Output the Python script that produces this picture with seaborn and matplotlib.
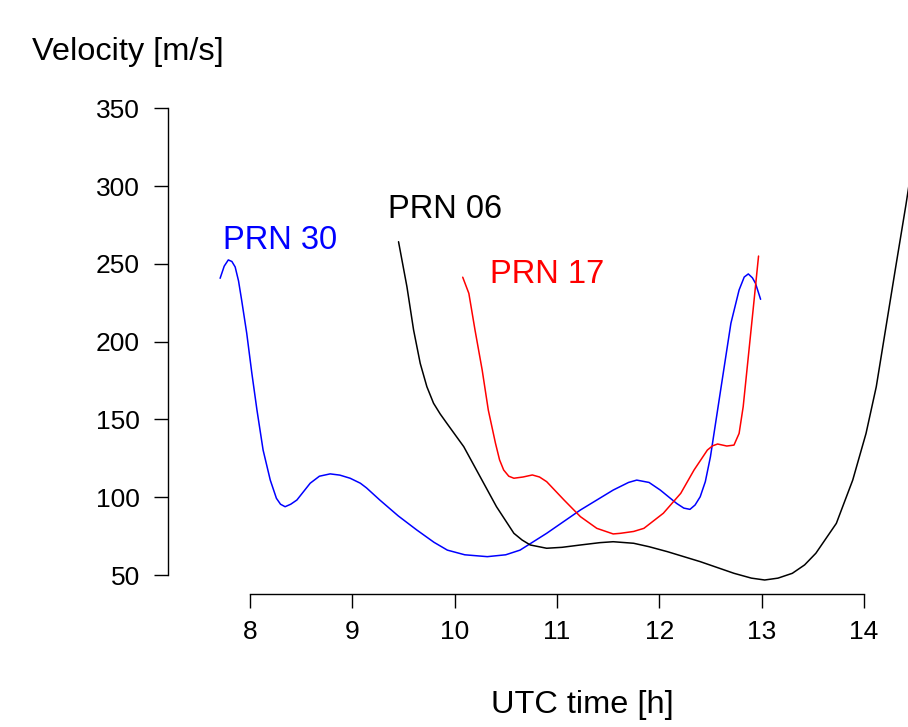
import numpy as np
import pandas as pd
import matplotlib
matplotlib.use("Agg")
import matplotlib.pyplot as plt
import seaborn as sns

# ---- data ----
prn30_t = [7.71, 7.75, 7.79, 7.825, 7.857, 7.89, 7.92, 7.97, 8.02, 8.07, 8.13, 8.20, 8.26, 8.30,
           8.345, 8.40, 8.46, 8.59, 8.68, 8.785, 8.88, 8.98, 9.08, 9.14, 9.27, 9.45, 9.63, 9.80,
           9.93, 10.10, 10.32, 10.50, 10.64, 10.90, 11.23, 11.55, 11.70, 11.78, 11.90, 12.01,
           12.17, 12.24, 12.30, 12.35, 12.40, 12.45, 12.50, 12.60, 12.70, 12.78, 12.83, 12.87,
           12.91, 12.94, 12.99]
prn30_v = [240.7, 248.5, 252.5, 251.5, 248, 239, 226.8, 205.4, 179.7, 156, 130.3, 111, 99.3, 95.5,
           93.9, 95.5, 98.2, 109, 113.5, 115, 114.2, 112.2, 109, 106, 98.2, 88, 79, 71,
           66, 63, 61.8, 63, 66, 76.8, 91.8, 104.6, 109.5, 111, 109.5, 104.6,
           96, 93, 92.2, 95, 100.3, 110, 126, 169, 211.8, 233.2, 241.5, 243.5,
           241, 237.5, 227.2]

prn06_t = [9.453, 9.535, 9.60, 9.665, 9.73, 9.795, 9.86, 9.925, 10.09, 10.25, 10.41, 10.58,
           10.66, 10.74, 10.90, 11.05, 11.23, 11.42, 11.55, 11.75, 11.90, 12.08, 12.40, 12.73,
           12.90, 13.03, 13.16, 13.30, 13.42, 13.53, 13.73, 13.89, 14.02, 14.12, 14.21, 14.31,
           14.41, 14.45]
prn06_v = [264.2, 235.3, 207.5, 186, 171, 160.4, 153.5, 147.5, 132.5, 113.2, 93.9, 76.8,
           72.5, 69.3, 67.2, 67.8, 69.3, 70.8, 71.4, 70.4, 68.2, 65, 58.6, 51.1,
           48, 46.8, 48, 51.1, 56.5, 64, 83.2, 111, 141, 171, 207.5, 248,
           288, 305]

prn17_t = [10.08, 10.14, 10.20, 10.27, 10.33, 10.40, 10.44, 10.48, 10.53, 10.58, 10.67, 10.76,
           10.83, 10.90, 11.07, 11.23, 11.39, 11.55, 11.62, 11.75, 11.85, 12.04, 12.21, 12.34,
           12.47, 12.52, 12.57, 12.66, 12.73, 12.78, 12.82, 12.87, 12.92, 12.97]
prn17_v = [241.4, 231, 207.5, 181.8, 156, 134.7, 124, 117.5, 113.5, 112.2, 113, 114.3,
           113, 110, 98.2, 87.5, 80, 76.4, 76.8, 78, 80, 89.7, 102.5, 117.5,
           130.3, 133, 134.2, 132.9, 133.5, 141, 158.2, 190.3, 222.5, 255]

series_names = ["PRN 30", "PRN 06", "PRN 17"]
series_colors = ["#0000FF", "#000000", "#FF0000"]
label_x = [8.296, 9.909, 10.901]
label_y = [259.4, 279.3, 237.5]

x_ticks = [8, 9, 10, 11, 12, 13, 14]
y_ticks = [50, 100, 150, 200, 250, 300, 350]

# ---- plotting ----
sns.set_style("ticks")
plt.rcParams["font.family"] = ["Liberation Sans", "DejaVu Sans"]
plt.rcParams["text.color"] = "black"

fig = plt.figure(figsize=(9.08, 7.27), dpi=100)
ax = fig.add_axes([167.7 / 908, (727 - 594) / 727, 1 - 167.7 / 908, (594 - 95) / 727])

frames = []
for name, t, v in zip(series_names, [prn30_t, prn06_t, prn17_t], [prn30_v, prn06_v, prn17_v]):
    frames.append(pd.DataFrame({"t": t, "v": v, "sat": name}))
df = pd.concat(frames, ignore_index=True)

sns.lineplot(data=df, x="t", y="v", hue="sat", palette=dict(zip(series_names, series_colors)),
             estimator=None, sort=False, linewidth=1.1, legend=False, ax=ax)

for name, c, lx, ly in zip(series_names, series_colors, label_x, label_y):
    ax.text(lx, ly, name, color=c, fontsize=23.5, ha="center", va="baseline")

ax.set_xlim(7.198, 14.43)
ax.set_ylim(37.8, 358.5)
ax.set_xticks(x_ticks)
ax.set_yticks(y_ticks)
ax.set_xticklabels([str(v) for v in x_ticks])
ax.set_yticklabels([str(v) for v in y_ticks])

for s in ["top", "right"]:
    ax.spines[s].set_visible(False)
ax.spines["left"].set_bounds(50, 350)
ax.spines["bottom"].set_bounds(8, 14)
for s in ["left", "bottom"]:
    ax.spines[s].set_linewidth(1.0)
    ax.spines[s].set_color("black")

ax.tick_params(axis="both", direction="out", length=10, width=1.0, colors="black",
               labelcolor="black", labelsize=19)
ax.tick_params(axis="x", pad=9)
ax.tick_params(axis="y", pad=10)
ax.set_xlabel("")
ax.set_ylabel("")

fig.text(32 / 908, (727 - 60) / 727, "Velocity [m/s]", fontsize=23.4, color="black",
         ha="left", va="baseline")
fig.text(582.5 / 908, (727 - 713.3) / 727, "UTC time [h]", fontsize=23.4, color="black",
         ha="center", va="baseline")

fig.savefig("out.png", dpi=100)
